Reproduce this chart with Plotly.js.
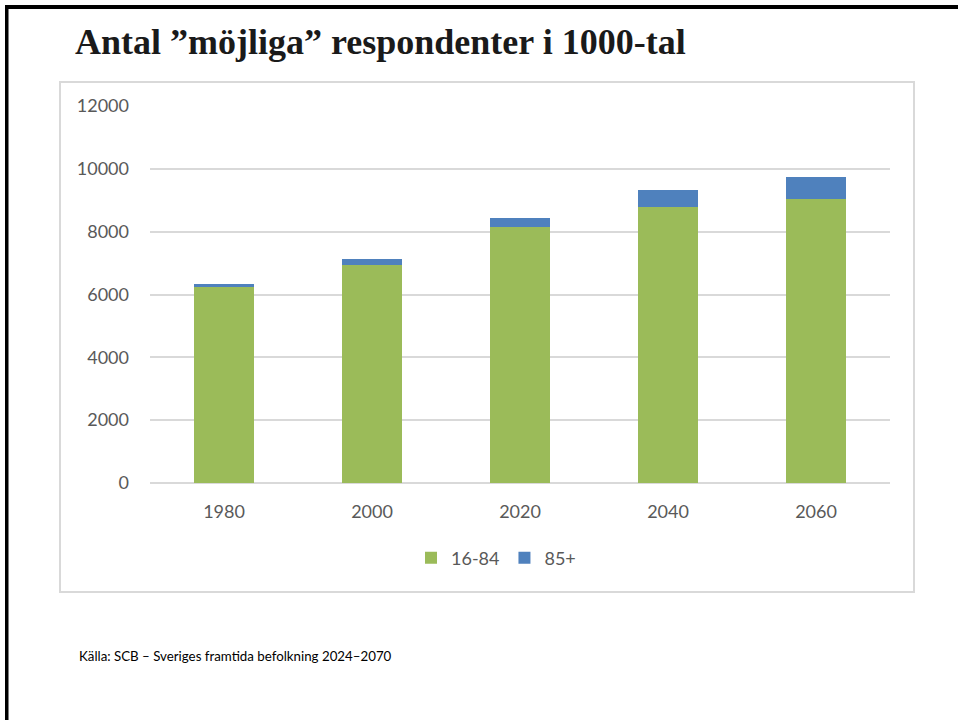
<!DOCTYPE html>
<html>
<head>
<meta charset="utf-8">
<script src="https://cdn.plot.ly/plotly-3.0.1.min.js"></script>
<style>html,body{margin:0;padding:0;background:#fff;}#chart{width:958px;height:720px;}</style>
</head>
<body>
<div id="chart"></div>
<script>
const years = ['1980', '2000', '2020', '2040', '2060'];
const age16to84 = [6230, 6940, 8140, 8800, 9050];
const age85plus = [100, 190, 300, 530, 700];
const yTicks = [0, 2000, 4000, 6000, 8000, 10000, 12000];
const titleText = 'Antal ”möjliga” respondenter i 1000-tal';
const sourceText = 'Källa: SCB – Sveriges framtida befolkning 2024–2070';

const W = 958, H = 720;
const px = x => x / W;
const py = y => 1 - y / H;

const traces = [
  {type: 'bar', name: '16-84', x: years, y: age16to84, marker: {color: '#9BBB59', line: {width: 0}}},
  {type: 'bar', name: '85+', x: years, y: age85plus, marker: {color: '#4F81BD', line: {width: 0}}}
];

const layout = {
  width: W, height: H,
  margin: {l: 0, r: 0, t: 0, b: 0},
  paper_bgcolor: '#ffffff', plot_bgcolor: '#ffffff',
  barmode: 'stack', bargap: 0.6,
  font: {family: 'Lato, "Open Sans", sans-serif', color: '#595959', size: 18},
  title: {
    text: '<b>' + titleText + '</b>',
    x: px(75), xanchor: 'left', xref: 'paper',
    y: py(41), yanchor: 'middle', yref: 'paper',
    font: {family: '"Liberation Serif", "DejaVu Serif", serif', size: 36, color: '#1a1a1a'}
  },
  xaxis: {
    type: 'category', domain: [px(150), px(890)],
    showgrid: false, zeroline: false, showline: false, ticks: '',
    ticklabelstandoff: 16,
    tickfont: {size: 18, color: '#595959'}
  },
  yaxis: {
    domain: [py(483), py(106)], range: [0, 12000],
    tickvals: yTicks, ticktext: yTicks.map(String),
    showgrid: true, gridcolor: '#d9d9d9', gridwidth: 2,
    zeroline: true, zerolinecolor: '#d9d9d9', zerolinewidth: 2,
    showline: false, ticks: '', ticklabelstandoff: 20,
    tickfont: {size: 18, color: '#595959'}
  },
  legend: {
    orientation: 'h', x: px(496), xanchor: 'center', xref: 'paper',
    y: py(558), yanchor: 'middle', yref: 'paper',
    font: {size: 18, color: '#595959'}, traceorder: 'normal',
    itemwidth: 30
  },
  shapes: [
    {type: 'rect', xref: 'paper', yref: 'paper', x0: px(60), x1: px(914), y0: py(592), y1: py(82),
      line: {color: '#d9d9d9', width: 2}, fillcolor: 'rgba(0,0,0,0)', layer: 'below'},
    {type: 'rect', xref: 'paper', yref: 'paper', x0: px(5), x1: 1, y0: py(9), y1: py(5),
      line: {width: 0}, fillcolor: '#000000'},
    {type: 'rect', xref: 'paper', yref: 'paper', x0: px(5), x1: px(8.5), y0: 0, y1: py(5),
      line: {width: 0}, fillcolor: '#000000'}
  ],
  annotations: [
    {text: sourceText, xref: 'paper', yref: 'paper', x: px(77), xanchor: 'left', y: py(656), yanchor: 'middle',
      showarrow: false, font: {family: 'Lato, "Open Sans", sans-serif', size: 13.3, color: '#000000'}}
  ],
  showlegend: true
};

Plotly.newPlot('chart', traces, layout, {displayModeBar: false, staticPlot: true});
</script>
</body>
</html>
